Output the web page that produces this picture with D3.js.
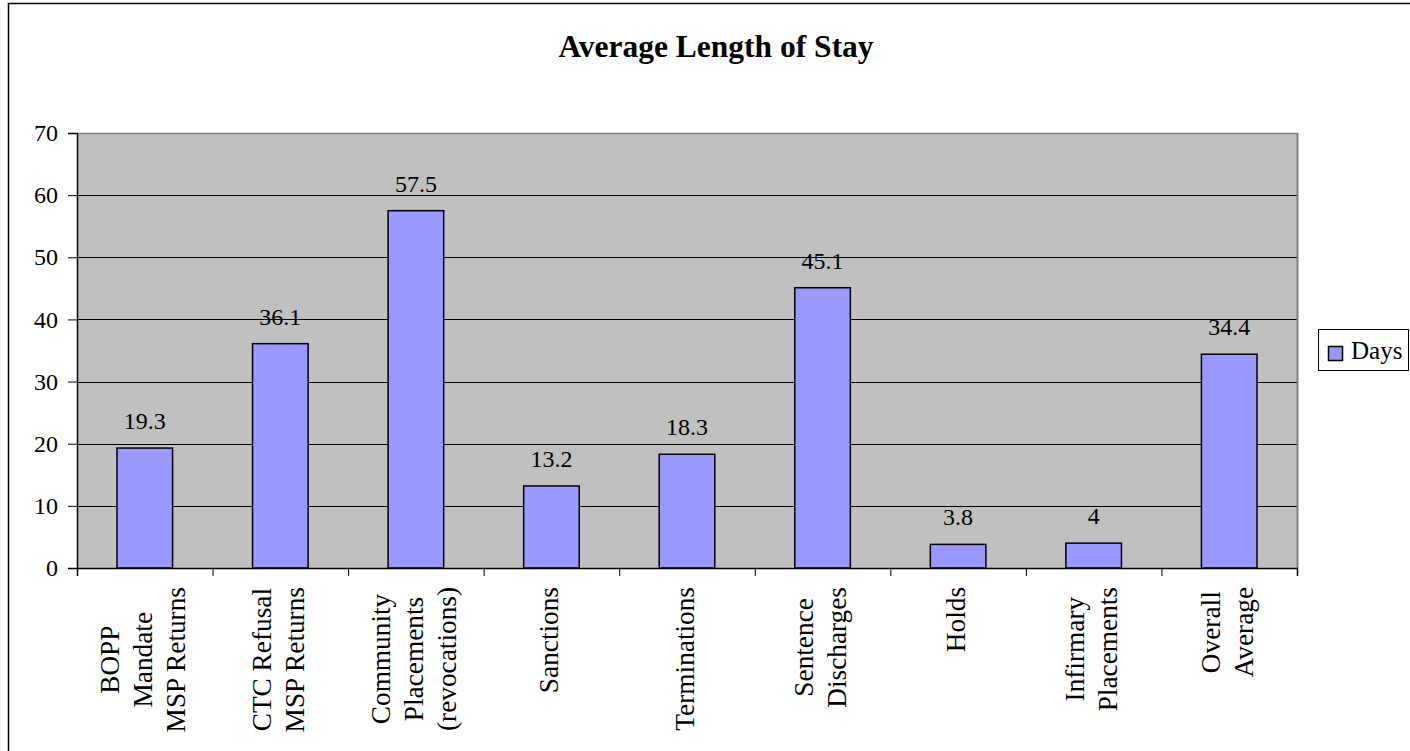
<!DOCTYPE html>
<html><head><meta charset="utf-8">
<script src="https://cdn.jsdelivr.net/npm/d3@7"></script>
<style>
html,body{margin:0;padding:0;background:#fff;}
svg{display:block;}
text{font-family:"Liberation Serif","Times New Roman",serif;fill:#000;}
</style></head>
<body>
<svg id="chart" width="1410" height="751"></svg>
<script>
const categories = [
  ["BOPP","Mandate","MSP Returns"],
  ["CTC Refusal","MSP Returns"],
  ["Community","Placements","(revocations)"],
  ["Sanctions"],
  ["Terminations"],
  ["Sentence","Discharges"],
  ["Holds"],
  ["Infirmary","Placements"],
  ["Overall","Average"]
];
const values = [19.3, 36.1, 57.5, 13.2, 18.3, 45.1, 3.8, 4, 34.4];
const valueLabels = ["19.3","36.1","57.5","13.2","18.3","45.1","3.8","4","34.4"];
const yTicks = [0,10,20,30,40,50,60,70];
const seriesName = "Days";
const title = "Average Length of Stay";

const svg = d3.select("#chart");
const W = 1410, H = 751;
const plot = {left:77, top:133, right:1297, bottom:568};

// outer frame
svg.append("rect").attr("x",8.5).attr("y",3.5).attr("width",W).attr("height",H)
  .attr("fill","#fff").attr("stroke","#000").attr("stroke-width",1.5);

// title
svg.append("text").attr("x",716).attr("y",57)
  .attr("text-anchor","middle").attr("font-weight","bold").attr("font-size",31.5)
  .text(title);

const x = d3.scaleBand().domain(d3.range(categories.length))
  .range([plot.left, plot.right]).paddingInner(0.59).paddingOuter(0.295);
const xTick = d3.scaleLinear().domain([0, categories.length]).range([plot.left, plot.right]);
const y = d3.scaleLinear().domain([0,70]).range([plot.bottom, plot.top]);

// plot background
svg.append("rect").attr("x",plot.left).attr("y",plot.top)
  .attr("width",plot.right-plot.left).attr("height",plot.bottom-plot.top)
  .attr("fill","#C0C0C0");

// gridlines
svg.append("g").selectAll("line").data(yTicks.filter(d=>d>0 && d<70)).join("line")
  .attr("x1",plot.left).attr("x2",plot.right)
  .attr("y1",d=>Math.round(y(d))+0.5).attr("y2",d=>Math.round(y(d))+0.5)
  .attr("stroke","#000").attr("stroke-width",1);

// plot border top & right (gray)
svg.append("line").attr("x1",plot.left).attr("x2",plot.right+1)
  .attr("y1",plot.top+0.5).attr("y2",plot.top+0.5).attr("stroke","#808080").attr("stroke-width",1.5);
svg.append("line").attr("x1",plot.right+0.5).attr("x2",plot.right+0.5)
  .attr("y1",plot.top).attr("y2",plot.bottom).attr("stroke","#808080").attr("stroke-width",2);

// bars
svg.append("g").selectAll("rect").data(values).join("rect")
  .attr("x",(d,i)=>x(i)).attr("width",x.bandwidth())
  .attr("y",d=>y(d)).attr("height",d=>y(0)-y(d))
  .attr("fill","#9999FF").attr("stroke","#000").attr("stroke-width",1.5);

// value labels
svg.append("g").selectAll("text").data(values).join("text")
  .attr("x",(d,i)=>x(i)+x.bandwidth()/2).attr("y",d=>y(d)-19)
  .attr("text-anchor","middle").attr("font-size",24)
  .text((d,i)=>valueLabels[i]);

// y axis
const yAxis = d3.axisLeft(y).tickValues(yTicks).tickSize(9).tickPadding(10).tickFormat(d3.format("d"));
const gy = svg.append("g").attr("transform",`translate(${plot.left},0)`).call(yAxis);
gy.select(".domain").attr("stroke","#000").attr("stroke-width",1.5);
gy.selectAll(".tick line").attr("stroke","#000");
gy.selectAll(".tick text").attr("font-size",24).attr("fill","#000").attr("dy","0.32em");

// x axis line & ticks
const xAxis = d3.axisBottom(xTick).tickValues(d3.range(categories.length+1)).tickSize(8).tickFormat("");
const gx = svg.append("g").attr("transform",`translate(0,${plot.bottom})`).call(xAxis);
gx.select(".domain").attr("stroke","#000").attr("stroke-width",1.5);
gx.selectAll(".tick line").attr("stroke","#000");

// category labels (rotated, centered lines, block top-aligned near axis)
const fsCat = 27.3, lineGap = 33, topY = 587;
const gl = svg.append("g");
categories.forEach((lines,i)=>{
  const cx = x(i)+x.bandwidth()/2;
  const grp = gl.append("g");
  const texts = lines.map((ln,j)=>grp.append("text").attr("font-size",fsCat).attr("text-anchor","middle").text(ln));
  const maxW = d3.max(texts, t=>t.node().getComputedTextLength());
  const cy = topY + maxW/2;
  texts.forEach((t,j)=>{
    const bx = cx + (j-(lines.length-1)/2)*lineGap + 7;
    t.attr("transform",`translate(${bx},${cy}) rotate(-90)`);
  });
});

// legend
svg.append("rect").attr("x",1318.5).attr("y",329.5).attr("width",90).attr("height",41)
  .attr("fill","#fff").attr("stroke","#000").attr("stroke-width",1);
svg.append("rect").attr("x",1328.5).attr("y",346.5).attr("width",14).attr("height",14)
  .attr("fill","#9999FF").attr("stroke","#000").attr("stroke-width",1.5);
svg.append("text").attr("x",1351).attr("y",359).attr("font-size",25).text(seriesName);
</script>
</body></html>
